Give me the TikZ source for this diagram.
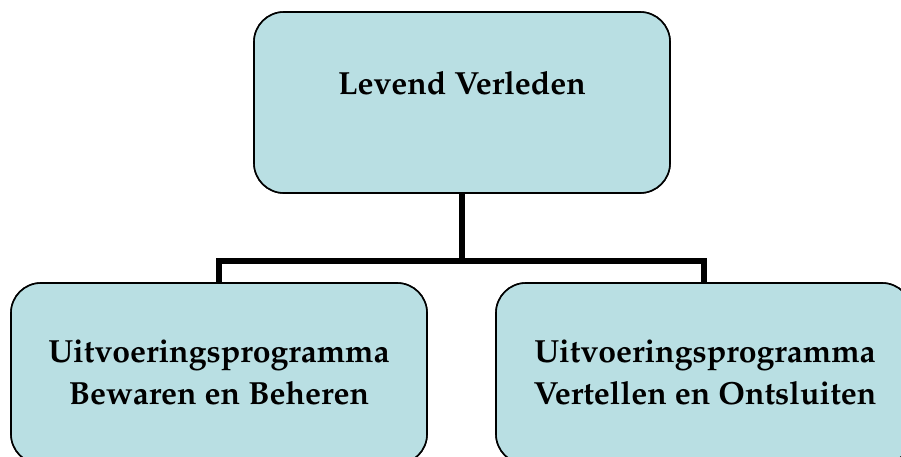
\documentclass[tikz,border=0pt]{standalone}
\usepackage[T1]{fontenc}
\usepackage{mathpazo}
\definecolor{boxfill}{RGB}{185,223,227}
\begin{document}
\begin{tikzpicture}[x=1pt,y=-1pt,
  box/.style={draw=black,line width=1.6pt,fill=boxfill,rounded corners=30pt,
    minimum width=416pt,minimum height=181pt,inner sep=0pt},
  txt/.style={font=\fontsize{32}{42}\selectfont\bfseries,align=center,inner sep=0pt},
  conn/.style={line width=6pt,draw=black}]
\useasboundingbox (0,0) rectangle (901,456);
\clip (0,0) rectangle (901,456);
\node[box] (top) at (462,102.5) {};
\node[box] (left) at (219,373.5) {};
\node[box] (right) at (704,373.5) {};
\coordinate (j) at ([yshift=-158pt]top.south);
\draw[conn] (top.south) -- (j |- 0,261);
\draw[conn] (left.north) |- (j |- 0,261) -| (right.north);
\node[box] at (top) {};
\node[box] at (left) {};
\node[box] at (right) {};
\node[txt] (ttop) at (462,83) {Levend Verleden};
\node[txt] (tleft) at (219,372) {Uitvoeringsprogramma\\Bewaren en Beheren};
\node[txt] (tright) at (705,372) {Uitvoeringsprogramma\\Vertellen en Ontsluiten};
\end{tikzpicture}
\end{document}
